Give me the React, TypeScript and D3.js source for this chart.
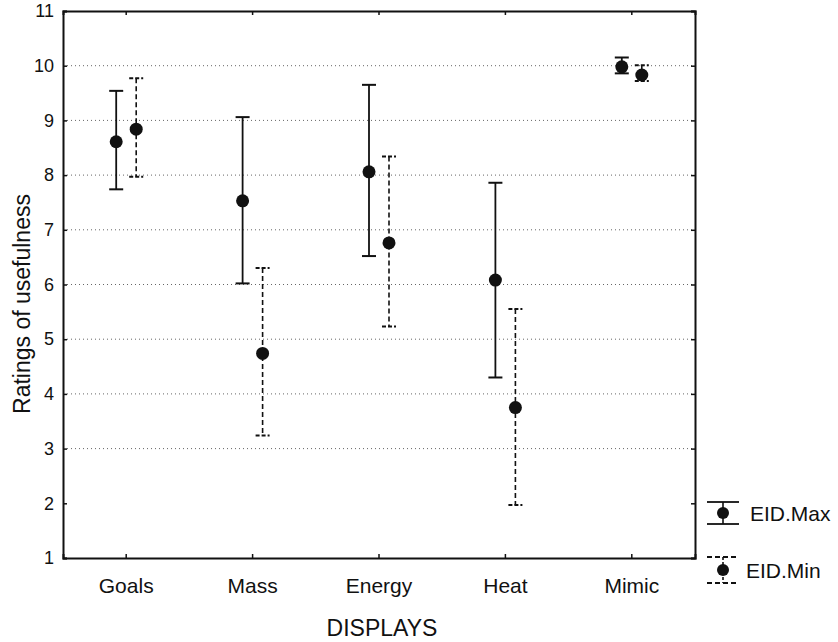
import { useRef, useEffect } from "react";
import * as d3 from "d3";

// categories and series
const displays = ["Goals", "Mass", "Energy", "Heat", "Mimic"];
const maxMean = [8.61, 7.53, 8.06, 6.08, 9.98];
const maxUpper = [9.54, 9.06, 9.65, 7.86, 10.15];
const maxLower = [7.74, 6.02, 6.52, 4.3, 9.86];
const minMean = [8.84, 4.74, 6.76, 3.75, 9.83];
const minUpper = [9.77, 6.3, 8.34, 5.55, 10.01];
const minLower = [7.97, 3.24, 5.23, 1.97, 9.72];
const yTicks = [1, 2, 3, 4, 5, 6, 7, 8, 9, 10, 11];
const gridTicks = [3, 4, 5, 6, 7, 8, 9, 10];
const seriesNames = ["EID.Max", "EID.Min"];

const App = () => {
  const svgRef = useRef<SVGSVGElement>(null);

  useEffect(() => {
    const width = 838;
    const height = 642;
    const margin = { top: 11, right: 143, bottom: 84, left: 63 };
    const font = "Liberation Sans, Arial, sans-serif";

    const svg = d3.select(svgRef.current).attr("width", width).attr("height", height);
    svg.selectAll("*").remove();

    const x = d3
      .scaleBand()
      .domain(displays)
      .range([margin.left, width - margin.right])
      .padding(0);
    const y = d3
      .scaleLinear()
      .domain([1, 11])
      .range([height - margin.bottom, margin.top]);

    const g = svg.append("g");

    // dotted grid
    g.selectAll("line.grid")
      .data(gridTicks)
      .join("line")
      .attr("x1", margin.left)
      .attr("x2", width - margin.right)
      .attr("y1", (d) => y(d))
      .attr("y2", (d) => y(d))
      .attr("stroke", "#666")
      .attr("stroke-width", 1)
      .attr("stroke-dasharray", "1,3");

    // axes with inward ticks
    const left = d3.axisLeft(y).tickValues(yTicks).tickSize(-4).tickPadding(9).tickFormat(d3.format("d"));
    const right = d3.axisRight(y).tickValues(yTicks).tickSize(-4).tickFormat(() => "");
    const bottom = d3.axisBottom(x).tickSize(-4).tickPadding(20);
    const top = d3.axisTop(x).tickSize(-4).tickFormat(() => "");

    const axL = g.append("g").attr("transform", `translate(${margin.left},0)`).call(left);
    g.append("g").attr("transform", `translate(${width - margin.right},0)`).call(right);
    const axB = g.append("g").attr("transform", `translate(0,${height - margin.bottom})`).call(bottom);
    g.append("g").attr("transform", `translate(0,${margin.top})`).call(top);

    g.selectAll(".domain").attr("stroke", "#111").attr("stroke-width", 2);
    g.selectAll(".tick line").attr("stroke", "#111").attr("stroke-width", 1.5);
    axL.selectAll("text").attr("font-family", font).attr("font-size", 18).attr("fill", "#111");
    axB.selectAll("text").attr("font-family", font).attr("font-size", 21).attr("fill", "#111");

    // axis titles
    svg
      .append("text")
      .attr("transform", `translate(30,304) rotate(-90)`)
      .attr("text-anchor", "middle")
      .attr("font-family", font)
      .attr("font-size", 23)
      .attr("fill", "#111")
      .text("Ratings of usefulness");
    svg
      .append("text")
      .attr("x", 382)
      .attr("y", 636)
      .attr("text-anchor", "middle")
      .attr("font-family", font)
      .attr("font-size", 23)
      .attr("fill", "#111")
      .text("DISPLAYS");

    const series = [
      { mean: maxMean, upper: maxUpper, lower: maxLower, offset: -10, dash: null, lw: 1.8 },
      { mean: minMean, upper: minUpper, lower: minLower, offset: 10, dash: "5,3", lw: 1.6 },
    ];
    const cap = 7;
    const cx = (i: number, off: number) => (x(displays[i]) as number) + x.bandwidth() / 2 + off;

    series.forEach((s) => {
      const sg = g.append("g");
      const idx = d3.range(displays.length);
      sg.selectAll("line.bar")
        .data(idx)
        .join("line")
        .attr("x1", (i) => cx(i, s.offset))
        .attr("x2", (i) => cx(i, s.offset))
        .attr("y1", (i) => y(s.upper[i]))
        .attr("y2", (i) => y(s.lower[i]))
        .attr("stroke", "#111")
        .attr("stroke-width", s.lw)
        .attr("stroke-dasharray", s.dash);
      [s.upper, s.lower].forEach((arr) => {
        sg.selectAll(null)
          .data(idx)
          .join("line")
          .attr("x1", (i) => cx(i, s.offset) - cap)
          .attr("x2", (i) => cx(i, s.offset) + cap)
          .attr("y1", (i) => y(arr[i]))
          .attr("y2", (i) => y(arr[i]))
          .attr("stroke", "#111")
          .attr("stroke-width", 2)
          .attr("stroke-dasharray", s.dash ? "4,2" : null);
      });
      sg.selectAll("circle")
        .data(idx)
        .join("circle")
        .attr("cx", (i) => cx(i, s.offset))
        .attr("cy", (i) => y(s.mean[i]))
        .attr("r", 6.5)
        .attr("fill", "#111");
    });

    // legend
    const legend = svg.append("g");
    const legendY = [513, 570];
    const legendH = [11, 13];
    seriesNames.forEach((name, k) => {
      const lx = 723;
      const ly = legendY[k];
      const h = legendH[k];
      const dash = k === 1 ? "5,3" : null;
      const item = legend.append("g");
      item.append("line").attr("x1", lx).attr("x2", lx).attr("y1", ly - h).attr("y2", ly + h)
        .attr("stroke", "#111").attr("stroke-width", 1.6).attr("stroke-dasharray", k === 1 ? "3,2" : null);
      [ly - h, ly + h].forEach((yy) =>
        item.append("line").attr("x1", lx - 16).attr("x2", lx + 16).attr("y1", yy).attr("y2", yy)
          .attr("stroke", "#111").attr("stroke-width", 1.8).attr("stroke-dasharray", dash)
      );
      item.append("circle").attr("cx", lx).attr("cy", ly).attr("r", 6).attr("fill", "#111");
      item.append("text")
        .attr("x", k === 0 ? 750 : 746)
        .attr("y", ly + 8)
        .attr("font-family", font)
        .attr("font-size", 21)
        .attr("fill", "#111")
        .text(name);
    });
  }, []);

  return <svg ref={svgRef} style={{ position: "absolute", left: 0, top: 0 }} />;
};

export default App;
